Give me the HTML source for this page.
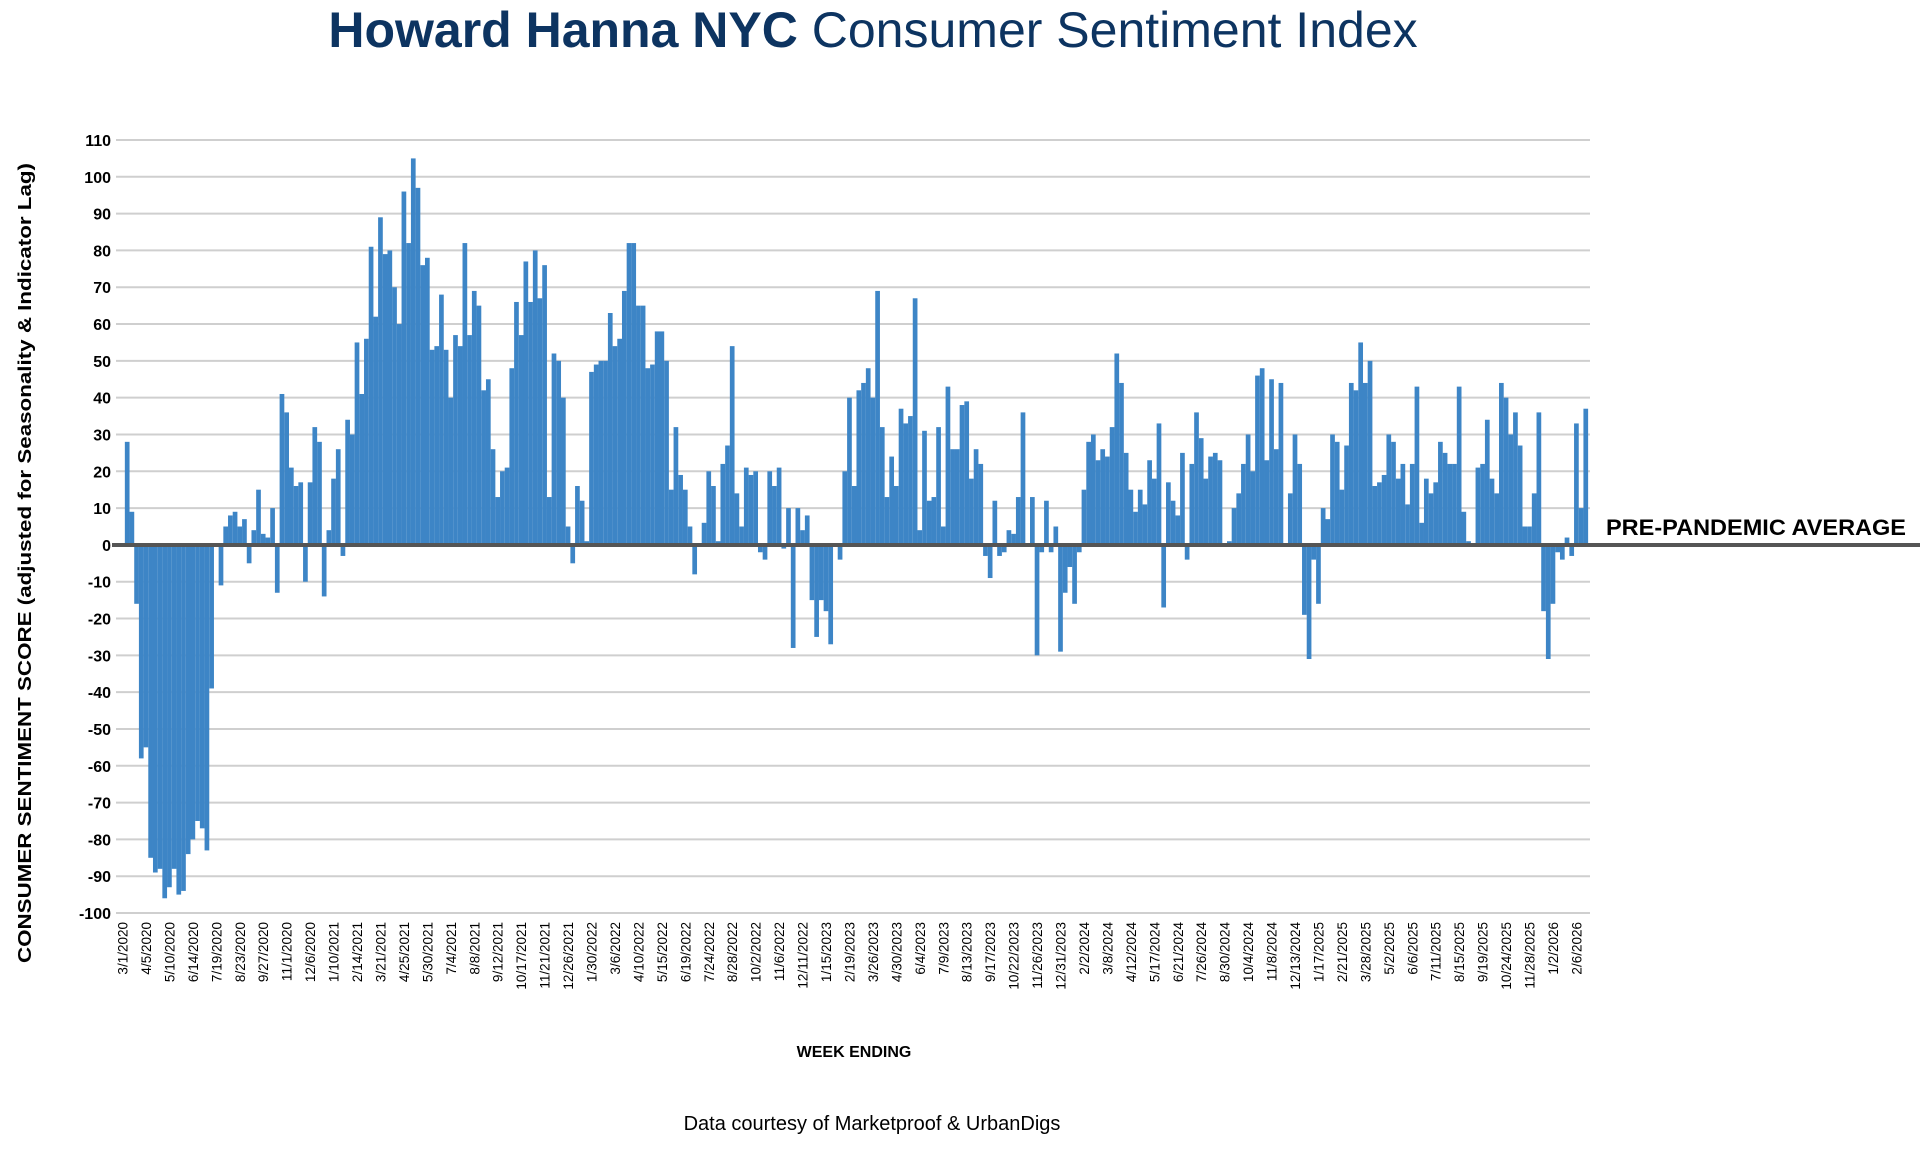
<!DOCTYPE html>
<html><head><meta charset="utf-8">
<style>
html,body{margin:0;padding:0;background:#fff;}
svg{display:block;font-family:"Liberation Sans",Arial,sans-serif;}
</style></head>
<body>
<svg id="chart" width="1920" height="1153" viewBox="0 0 1920 1153" xmlns="http://www.w3.org/2000/svg">
<text x="873" y="47" text-anchor="middle" font-size="50" fill="#0d3461"><tspan font-weight="bold">Howard Hanna NYC</tspan> Consumer Sentiment Index</text>
<g id="grid"></g>
<g id="yticks"></g>
<g id="bars"></g>
<line x1="112" x2="1920" y1="545" y2="545" stroke="#555" stroke-width="4"/>
<text x="1606" y="535" font-size="22" font-weight="bold" fill="#000" textLength="300" lengthAdjust="spacingAndGlyphs">PRE-PANDEMIC AVERAGE</text>
<g id="xticks"></g>
<text transform="translate(31,563) rotate(-90)" text-anchor="middle" font-size="18" font-weight="bold" textLength="800" lengthAdjust="spacingAndGlyphs">CONSUMER SENTIMENT SCORE (adjusted for Seasonality &amp; Indicator Lag)</text>
<text x="854" y="1057" text-anchor="middle" font-size="16" font-weight="bold">WEEK ENDING</text>
<text x="872" y="1130" text-anchor="middle" font-size="20">Data courtesy of Marketproof &amp; UrbanDigs</text>
</svg>
<script>
const values = [0,28,9,-16,-58,-55,-85,-89,-88,-96,-93,-88,-95,-94,-84,-80,-75,-77,-83,-39,
0,-11,5,8,9,5,7,-5,4,15,3,2,10,-13,41,36,21,16,17,-10,
17,32,28,-14,4,18,26,-3,34,30,55,41,56,81,62,89,79,80,70,60,
96,82,105,97,76,78,53,54,68,53,40,57,54,82,57,69,65,42,45,26,
13,20,21,48,66,57,77,66,80,67,76,13,52,50,40,5,-5,16,12,1,
47,49,50,50,63,54,56,69,82,82,65,65,48,49,58,58,50,15,32,19,
15,5,-8,0,6,20,16,1,22,27,54,14,5,21,19,20,-2,-4,20,16,
21,-1,10,-28,10,4,8,-15,-25,-15,-18,-27,0,-4,20,40,16,42,44,48,
40,69,32,13,24,16,37,33,35,67,4,31,12,13,32,5,43,26,26,38,
39,18,26,22,-3,-9,12,-3,-2,4,3,13,36,0,13,-30,-2,12,-2,5,
-29,-13,-6,-16,-2,15,28,30,23,26,24,32,52,44,25,15,9,15,11,23,
18,33,-17,17,12,8,25,-4,22,36,29,18,24,25,23,0,1,10,14,22,
30,20,46,48,23,45,26,44,0,14,30,22,-19,-31,-4,-16,10,7,30,28,
15,27,44,42,55,44,50,16,17,19,30,28,18,22,11,22,43,6,18,14,
17,28,25,22,22,43,9,1,0,21,22,34,18,14,44,40,30,36,27,5,
5,14,36,-18,-31,-16,-2,-4,2,-3,33,10,37];
const yTicks = [110,100,90,80,70,60,50,40,30,20,10,0,-10,-20,-30,-40,-50,-60,-70,-80,-90,-100];
const xLabels = ["3/1/2020","4/5/2020","5/10/2020","6/14/2020","7/19/2020","8/23/2020","9/27/2020","11/1/2020","12/6/2020","1/10/2021","2/14/2021","3/21/2021","4/25/2021","5/30/2021","7/4/2021","8/8/2021","9/12/2021","10/17/2021","11/21/2021","12/26/2021","1/30/2022","3/6/2022","4/10/2022","5/15/2022","6/19/2022","7/24/2022","8/28/2022","10/2/2022","11/6/2022","12/11/2022","1/15/2023","2/19/2023","3/26/2023","4/30/2023","6/4/2023","7/9/2023","8/13/2023","9/17/2023","10/22/2023","11/26/2023","12/31/2023","2/2/2024","3/8/2024","4/12/2024","5/17/2024","6/21/2024","7/26/2024","8/30/2024","10/4/2024","11/8/2024","12/13/2024","1/17/2025","2/21/2025","3/28/2025","5/2/2025","6/6/2025","7/11/2025","8/15/2025","9/19/2025","10/24/2025","11/28/2025","1/2/2026","2/6/2026"];
const labelEvery = 5;

const NS="http://www.w3.org/2000/svg";
const plotL=116, plotR=1590, yTop=140, yBot=913, yMax=110, yMin=-100;
const slot=4.69, x0=122.5;
function yScale(v){return yTop+(yMax-v)*(yBot-yTop)/(yMax-yMin);}
function xScale(i){return x0+i*slot;}
function mk(tag,attrs,parent){const e=document.createElementNS(NS,tag);for(const k in attrs)e.setAttribute(k,attrs[k]);parent.appendChild(e);return e;}

const grid=document.getElementById('grid'), yt=document.getElementById('yticks');
yTicks.forEach(v=>{
  const l=mk('line',{x1:plotL,x2:plotR,y1:yScale(v),y2:yScale(v),stroke:'#cfcfcf','stroke-width':2},grid);
  
  
  const t=mk('text',{x:111,y:yScale(v)+6,'text-anchor':'end','font-size':16,'font-weight':'bold'},yt);
  t.textContent=v;
  
  
});

const bars=document.getElementById('bars');
values.forEach((v,i)=>{
  const y0=yScale(0), y1=yScale(v);
  const r=mk('rect',{x:xScale(i)-2.35,y:Math.min(y0,y1),width:4.7,height:Math.max(1,Math.abs(y1-y0)),fill:'#3d85c6'},bars);
  
  
});

const xt=document.getElementById('xticks');
xLabels.forEach((s,k)=>{
  const x=xScale(k*labelEvery)+5;
  const t=mk('text',{transform:`translate(${x},922) rotate(-90)`,'text-anchor':'end','font-size':13.5},xt);
  t.textContent=s;
  
  
});
</script>
</body></html>
